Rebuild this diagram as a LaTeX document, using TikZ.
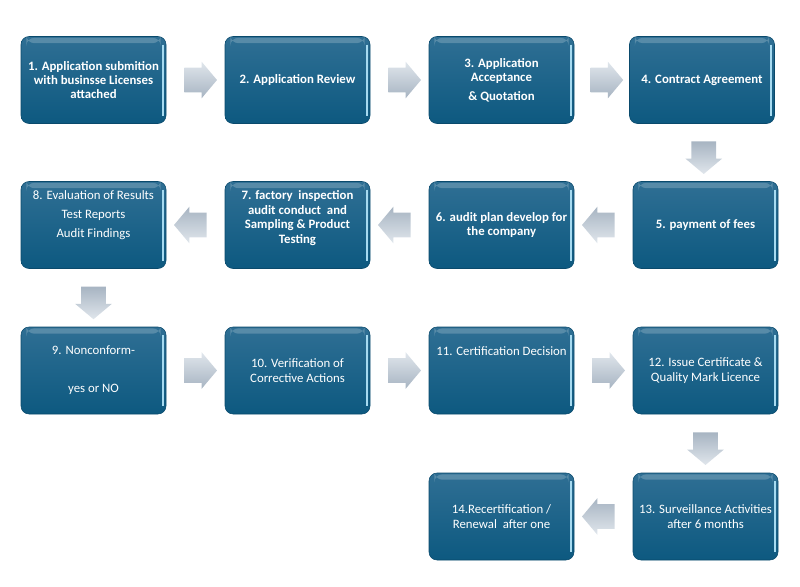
\documentclass[tikz,border=0pt]{standalone}
\usepackage{fontspec}
\setmainfont{Carlito}
\usetikzlibrary{shapes.arrows,calc}
\definecolor{azularriba}{HTML}{2F6F94}
\definecolor{azulabajo}{HTML}{0D5980}
\definecolor{borde}{HTML}{0A4A6C}
\definecolor{brillo}{HTML}{A6DAF0}
\definecolor{grisclaro}{HTML}{E0E6EC}
\definecolor{grisoscuro}{HTML}{A7B4C2}
\tikzstyle{paso} = [rectangle, rounded corners=6pt, minimum width=108.75pt, minimum height=65.25pt, inner sep=2pt, top color=azularriba, bottom color=azulabajo, draw=borde, text=white, align=center, font=\fontsize{9.6}{10.8}\selectfont,
	path picture={\fill[white, opacity=0.2] ([xshift=4pt,yshift=-1pt]path picture bounding box.north west) rectangle ([xshift=-4pt,yshift=-5pt]path picture bounding box.north east);
		\draw[brillo, line width=1.3pt] ([xshift=-2.5pt,yshift=-6pt]path picture bounding box.north east) -- ([xshift=-2.5pt,yshift=6pt]path picture bounding box.south east);}]
\tikzstyle{pasob} = [paso, font=\bfseries\fontsize{9.6}{10.8}\selectfont]
\tikzstyle{flecha} = [single arrow, draw=none, minimum height=24.5pt, inner xsep=0pt, inner ysep=9pt, single arrow head extend=4.5pt, single arrow tip angle=100]
\tikzstyle{derecha} = [flecha, top color=grisclaro, bottom color=grisoscuro]
\tikzstyle{izquierda} = [flecha, rotate=180, top color=grisoscuro, bottom color=grisclaro]
\tikzstyle{abajo} = [flecha, rotate=-90, top color=grisoscuro, bottom color=grisclaro]
\begin{document}
\begin{tikzpicture}[x=0.75pt, y=-0.75pt]
		\useasboundingbox (0,0) rectangle (800,586);
		% fila 1
		\node[pasob](p1) at (93.5,80) {1. Application submition\\with businsse Licenses\\attached};
		\node[pasob](p2) at (297.5,80) {2. Application Review};
		\node[pasob](p3) at (501.5,80) {3. Application\\Acceptance\\[3pt]\& Quotation};
		\node[pasob](p4) at (702,80) {4. Contract Agreement};
		% fila 2
		\node[pasob](p5) at (705.5,225) {5. payment of fees};
		\node[pasob](p6) at (501.5,225) {6. audit plan develop for\\the company};
		\node[pasob, text depth=12pt](p7) at (297.5,225) {7. factory~ inspection\\audit conduct~ and\\Sampling \& Product\\Testing};
		\node[paso, text depth=16pt](p8) at (93.5,225) {8. Evaluation of Results\\[3.5pt]Test Reports\\[3.5pt]Audit Findings};
		% fila 3
		\node[paso](p9) at (93.5,370.5) {9. Nonconform-\\[3.5pt]\mbox{}\\[3.5pt]yes or NO};
		\node[paso](p10) at (297.5,370.5) {10. Verification of\\Corrective Actions};
		\node[paso, text depth=29pt](p11) at (501.5,370.5) {11. Certification Decision};
		\node[paso](p12) at (705.5,370.5) {12. Issue Certificate \&\\Quality Mark Licence};
		% fila 4
		\node[paso](p13) at (705.5,516.5) {13. Surveillance Activities\\after 6 months};
		\node[paso](p14) at (501.5,516.5) {14.Recertification /\\Renewal~ after one};
		% flechas
		\node[derecha] at ($(p1.east)!0.5!(p2.west)$) {};
		\node[derecha] at ($(p2.east)!0.5!(p3.west)$) {};
		\node[derecha] at ($(p3.east)!0.5!(p4.west)$) {};
		\node[abajo] at ($(p4.south)!0.5!(p5.north)$) {};
		\node[izquierda] at ($(p5.west)!0.5!(p6.east)$) {};
		\node[izquierda] at ($(p6.west)!0.5!(p7.east)$) {};
		\node[izquierda] at ($(p7.west)!0.5!(p8.east)$) {};
		\node[abajo] at ($(p8.south)!0.5!(p9.north)$) {};
		\node[derecha] at ($(p9.east)!0.5!(p10.west)$) {};
		\node[derecha] at ($(p10.east)!0.5!(p11.west)$) {};
		\node[derecha] at ($(p11.east)!0.5!(p12.west)$) {};
		\node[abajo] at ($(p12.south)!0.5!(p13.north)$) {};
		\node[izquierda] at ($(p13.west)!0.5!(p14.east)$) {};
	\end{tikzpicture}
\end{document}
